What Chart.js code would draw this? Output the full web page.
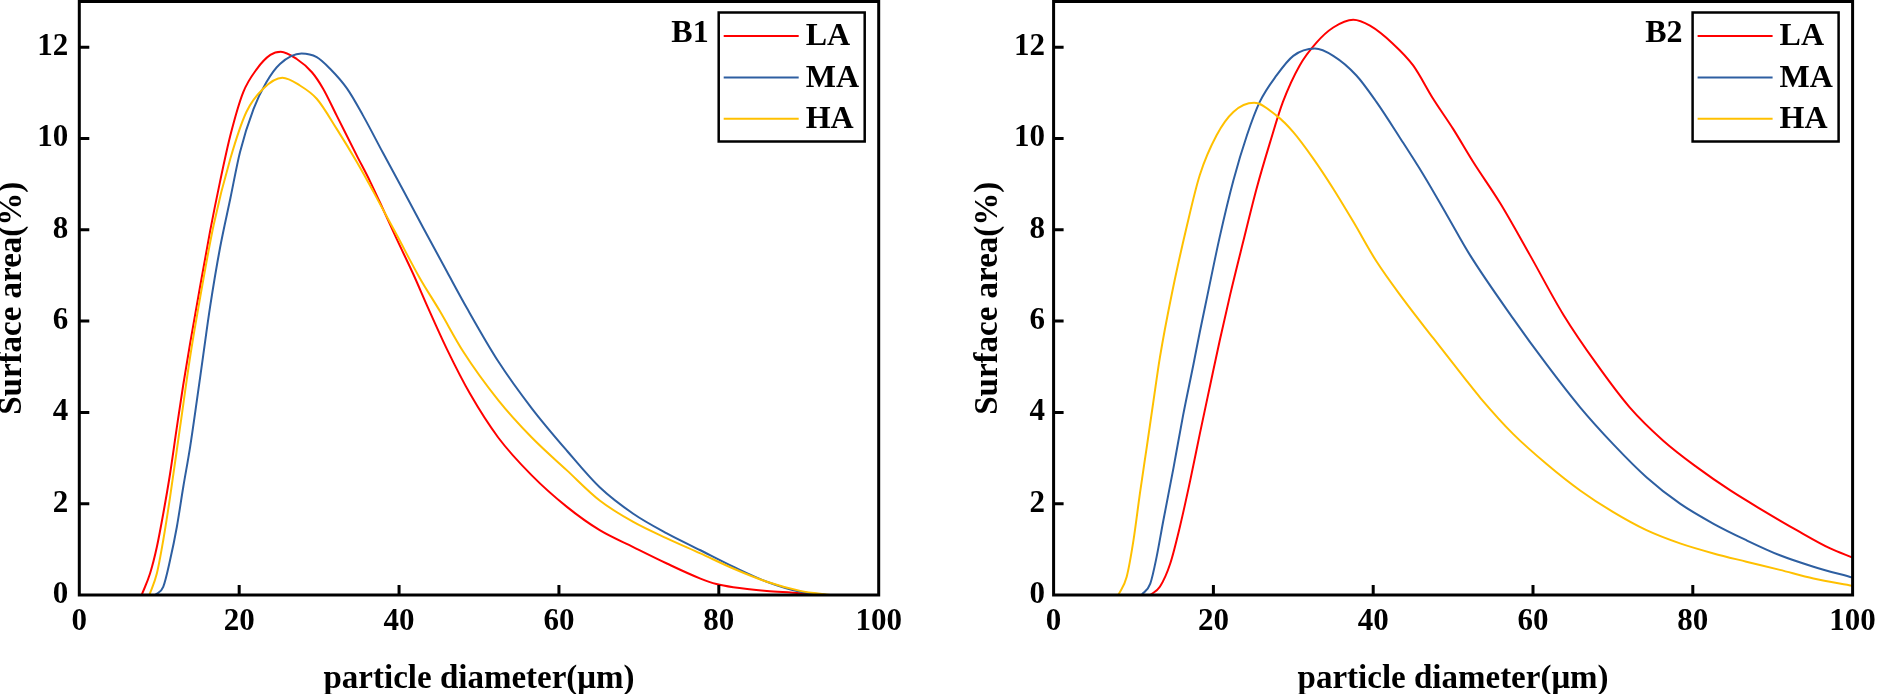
<!DOCTYPE html>
<html>
<head>
<meta charset="utf-8">
<script src="https://cdn.jsdelivr.net/npm/chart.js@4.4.1/dist/chart.umd.min.js"></script>
<style>
  html, body { margin: 0; padding: 0; background: #fff; width: 1877px; height: 694px; overflow: hidden; }
  canvas { position: absolute; top: 0; }
  #c1 { left: 0; }
  #c2 { left: 940px; }
</style>
</head>
<body>
<canvas id="c1" width="940" height="694"></canvas>
<canvas id="c2" width="937" height="694"></canvas>
<script>
// ---------- data ----------
const seriesNames = ['LA', 'MA', 'HA'];
const panelTags = ['B1', 'B2'];
const xTicks = [0, 20, 40, 60, 80, 100];
const yTicks = [0, 2, 4, 6, 8, 10, 12];

// Panel B1
const xB1LA = [7.8, 8.85, 9.7, 10.5, 11.35, 12.2, 13.0, 13.85, 14.7, 16.35, 17.6, 18.9, 20.5, 22.2, 23.9, 25.2, 27.2, 29.1, 30.5, 32.2, 34.7, 36.4, 38.0, 39.7, 41.8, 43.6, 46.0, 48.9, 52.4, 56.6, 61.0, 65.1, 69.3, 73.5, 77.7, 79.7, 81.8, 86.0, 90.2, 92.0];
const yB1LA = [0, 0.47, 1.05, 1.78, 2.65, 3.67, 4.6, 5.5, 6.35, 7.96, 9.05, 10.07, 11.01, 11.52, 11.83, 11.9, 11.74, 11.45, 11.09, 10.5, 9.63, 9.05, 8.45, 7.8, 7.02, 6.3, 5.38, 4.4, 3.45, 2.62, 1.93, 1.42, 1.05, 0.69, 0.36, 0.24, 0.17, 0.09, 0.04, 0];

const xB1MA = [9.5, 10.5, 11.35, 12.2, 13.0, 13.85, 14.7, 15.5, 16.35, 17.6, 18.9, 20.1, 21.8, 23.4, 25.1, 27.8, 29.7, 31.4, 33.5, 35.5, 38.0, 40.5, 43.0, 46.0, 48.5, 52.4, 56.6, 61.0, 65.1, 69.3, 73.5, 77.7, 81.8, 86.0, 90.2, 93.5];
const yB1MA = [0, 0.18, 0.76, 1.49, 2.36, 3.23, 4.25, 5.25, 6.3, 7.6, 8.69, 9.7, 10.65, 11.23, 11.63, 11.86, 11.78, 11.52, 11.09, 10.5, 9.68, 8.87, 8.05, 7.08, 6.28, 5.12, 4.09, 3.16, 2.36, 1.78, 1.35, 0.98, 0.62, 0.29, 0.07, 0];

const xB1HA = [8.76, 9.7, 10.5, 11.35, 12.6, 13.85, 14.9, 16.8, 18.9, 20.9, 23.0, 25.4, 27.6, 29.7, 32.2, 34.7, 36.8, 39.7, 42.6, 45.1, 48.0, 52.4, 56.6, 61.0, 65.1, 69.3, 73.5, 77.7, 81.8, 86.0, 90.2, 93.9];
const yB1HA = [0, 0.47, 1.2, 2.14, 3.67, 5.2, 6.3, 8.1, 9.56, 10.58, 11.09, 11.33, 11.16, 10.87, 10.21, 9.49, 8.83, 7.89, 6.94, 6.22, 5.34, 4.27, 3.45, 2.73, 2.07, 1.6, 1.24, 0.91, 0.58, 0.29, 0.09, 0];

// Panel B2
const xB2LA = [12.1, 13.3, 14.6, 15.8, 17.1, 18.3, 19.6, 20.8, 22.1, 23.7, 25.4, 27.1, 28.7, 30.8, 32.9, 35.0, 37.5, 39.6, 42.5, 45.0, 47.5, 50.0, 52.5, 55.9, 59.6, 63.8, 68.0, 72.1, 76.3, 80.5, 84.7, 88.8, 93.0, 97.2, 100];
const yB2LA = [0, 0.18, 0.69, 1.49, 2.51, 3.53, 4.6, 5.58, 6.58, 7.72, 8.9, 9.92, 10.8, 11.6, 12.1, 12.43, 12.6, 12.47, 12.07, 11.6, 10.87, 10.21, 9.49, 8.58, 7.45, 6.14, 5.05, 4.11, 3.38, 2.8, 2.29, 1.85, 1.42, 1.02, 0.82];

const xB2MA = [11.0, 12.1, 12.9, 13.7, 15.0, 16.2, 17.5, 18.3, 19.2, 20.8, 22.5, 24.2, 25.8, 27.9, 30.0, 32.7, 35.0, 37.9, 40.4, 43.4, 46.3, 49.2, 52.1, 57.5, 61.7, 65.9, 70.0, 74.2, 78.4, 82.6, 86.7, 90.9, 95.1, 100];
const yB2MA = [0, 0.25, 0.84, 1.6, 2.78, 3.93, 5.05, 5.76, 6.52, 7.85, 9.08, 10.07, 10.8, 11.38, 11.81, 11.97, 11.81, 11.38, 10.8, 10.0, 9.2, 8.33, 7.45, 6.06, 5.05, 4.11, 3.31, 2.58, 2.0, 1.56, 1.2, 0.87, 0.62, 0.38];

const xB2HA = [8.1, 9.15, 10.0, 10.8, 11.65, 12.5, 13.3, 14.8, 16.7, 18.3, 20.4, 22.5, 25.1, 27.9, 30.0, 32.5, 35.0, 37.5, 40.4, 43.8, 47.5, 51.7, 53.4, 57.5, 61.7, 65.9, 70.0, 74.2, 78.4, 82.6, 86.7, 90.9, 95.1, 100];
const yB2HA = [0, 0.4, 1.2, 2.22, 3.23, 4.25, 5.2, 6.6, 8.1, 9.2, 10.07, 10.58, 10.78, 10.5, 10.14, 9.56, 8.9, 8.18, 7.31, 6.47, 5.63, 4.69, 4.32, 3.53, 2.87, 2.29, 1.82, 1.42, 1.13, 0.91, 0.73, 0.55, 0.36, 0.2];

// ---------- styling ----------
const COLORS = ['#FF0000', '#2E5FA1', '#FFC000'];
const FONT_FAMILY = "'Liberation Serif', 'Times New Roman', Times, serif";

function pts(xs, ys) { return xs.map((x, i) => ({ x: x, y: ys[i] })); }

const framePlugin = {
  id: 'frame',
  afterDatasetsDraw(chart, args, opts) {
    const ctx = chart.ctx;
    const a = chart.chartArea;
    const xs = chart.scales.x, ys = chart.scales.y;
    ctx.save();
    ctx.strokeStyle = '#000';
    ctx.lineWidth = 3;
    ctx.strokeRect(a.left, a.top, a.right - a.left, a.bottom - a.top);
    // inward ticks
    ctx.beginPath();
    xs.ticks.forEach(t => {
      const px = xs.getPixelForValue(t.value);
      if (px <= a.left + 2 || px >= a.right - 2) return;
      ctx.moveTo(px, a.bottom); ctx.lineTo(px, a.bottom - 10);
    });
    ys.ticks.forEach(t => {
      const py = ys.getPixelForValue(t.value);
      if (py >= a.bottom - 2 || py <= a.top + 2) return;
      ctx.moveTo(a.left, py); ctx.lineTo(a.left + 10, py);
    });
    ctx.stroke();

    // legend
    const bw = 146, bh = 129;
    const bx = a.right - 14 - bw;
    const by = a.top + 11;
    ctx.lineWidth = 2.5;
    ctx.strokeRect(bx, by, bw, bh);
    ctx.font = 'bold 32px ' + FONT_FAMILY;
    ctx.textBaseline = 'middle';
    chart.data.datasets.forEach((ds, i) => {
      const ly = by + 23.6 + i * 41.3;
      ctx.strokeStyle = ds.borderColor;
      ctx.lineWidth = 2;
      ctx.beginPath();
      ctx.moveTo(bx + 5, ly); ctx.lineTo(bx + 80, ly);
      ctx.stroke();
      ctx.fillStyle = '#000';
      ctx.textAlign = 'left';
      ctx.fillText(ds.label, bx + 87, ly + 1);
    });
    ctx.textAlign = 'right';
    ctx.fillStyle = '#000';
    ctx.fillText(opts.tag, bx - 10, by + 21);
    ctx.restore();
  }
};

function makeChart(canvasId, tag, data, yWidth, yTitlePad, yLabelPad, padRight) {
  const datasets = data.map((d, i) => ({
    label: seriesNames[i],
    data: d,
    borderColor: COLORS[i],
    backgroundColor: COLORS[i],
    borderWidth: 2,
    pointRadius: 0,
    fill: false,
    cubicInterpolationMode: 'monotone',
    order: 3 - i
  }));
  return new Chart(document.getElementById(canvasId), {
    type: 'line',
    data: { datasets: datasets },
    plugins: [framePlugin],
    options: {
      responsive: false,
      animation: false,
      devicePixelRatio: 1,
      layout: { padding: { left: 0, right: padRight, top: 1.5, bottom: 0 } },
      plugins: {
        legend: { display: false },
        tooltip: { enabled: false },
        frame: { tag: tag }
      },
      scales: {
        x: {
          type: 'linear', min: 0, max: 100,
          afterBuildTicks: s => { s.ticks = xTicks.map(v => ({ value: v })); },
          ticks: { stepSize: 20, color: '#000', padding: 8, maxRotation: 0,
                   font: { family: FONT_FAMILY, weight: 'bold', size: 31 } },
          grid: { display: false, drawTicks: false },
          border: { display: false },
          title: { display: true, text: 'particle diameter(\u03bcm)', color: '#000',
                   font: { family: FONT_FAMILY, weight: 'bold', size: 33, lineHeight: 0.9 },
                   padding: { top: 0, bottom: 0 } },
          afterFit: s => { s.height = 99; s.paddingLeft = 0; s.paddingRight = 0; }
        },
        y: {
          type: 'linear', min: 0, max: 13,
          afterBuildTicks: s => { s.ticks = yTicks.map(v => ({ value: v })); },
          ticks: { stepSize: 2, includeBounds: false, color: '#000', padding: yLabelPad,
                   font: { family: FONT_FAMILY, weight: 'bold', size: 31 } },
          grid: { display: false, drawTicks: false },
          border: { display: false },
          title: { display: true, text: 'Surface area(%)', color: '#000',
                   font: { family: FONT_FAMILY, weight: 'bold', size: 33, lineHeight: 1 },
                   padding: { top: yTitlePad, bottom: 0 } },
          afterFit: s => { s.width = yWidth; s.paddingTop = 0; s.paddingBottom = 0; }
        }
      }
    }
  });
}

makeChart('c1', panelTags[0],
  [pts(xB1LA, yB1LA), pts(xB1MA, yB1MA), pts(xB1HA, yB1HA)],
  79.3, -4.5, 11, 61.3);
makeChart('c2', panelTags[1],
  [pts(xB2LA, yB2LA), pts(xB2MA, yB2MA), pts(xB2HA, yB2HA)],
  113.6, 32, 8.6, 24.4);
</script>
</body>
</html>
